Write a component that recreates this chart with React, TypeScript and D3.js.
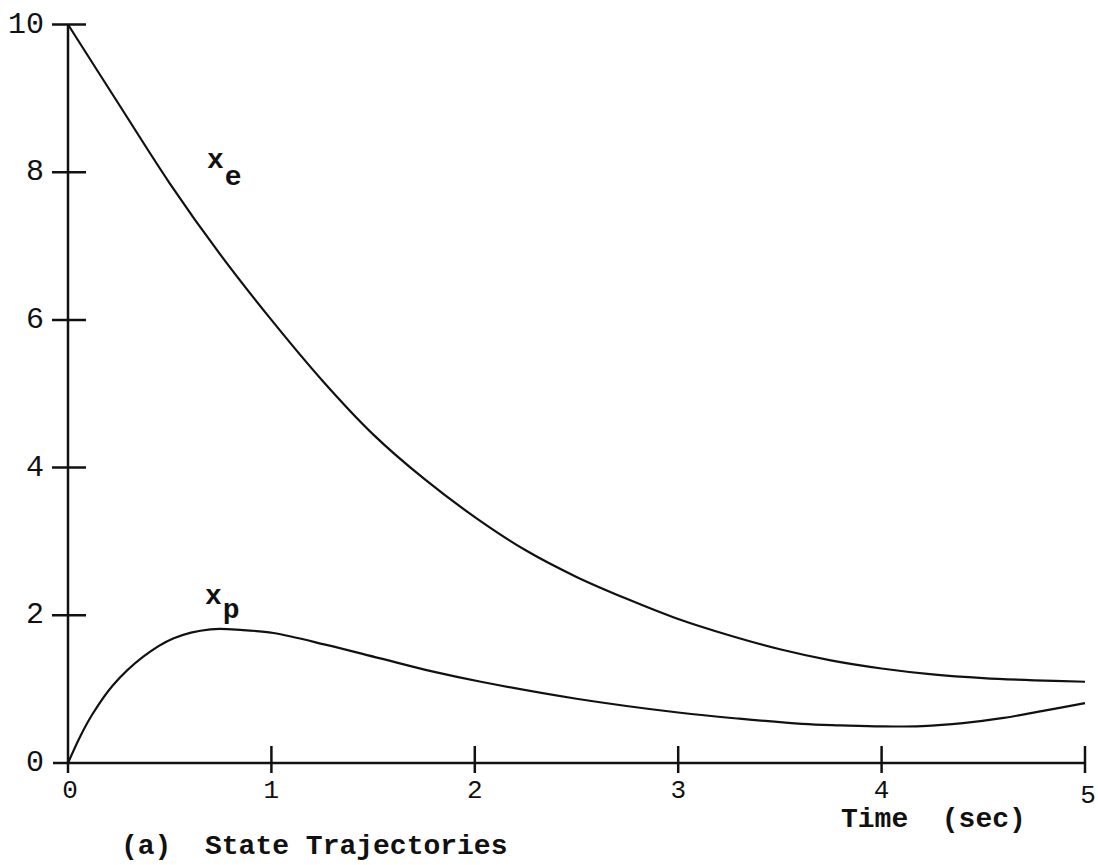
import React, { useEffect, useRef } from 'react';
import * as d3 from 'd3';

// values
const xeTime = [0, 0.25, 0.5, 0.75, 1.0, 1.25, 1.5, 1.75, 2.0, 2.25, 2.5, 2.75, 3.0, 3.25, 3.5, 3.75, 4.0, 4.25, 4.5, 4.75, 5.0];
const xeValue = [10, 8.92, 7.85, 6.88, 6.0, 5.18, 4.45, 3.85, 3.33, 2.88, 2.52, 2.22, 1.95, 1.73, 1.54, 1.39, 1.28, 1.2, 1.15, 1.12, 1.1];

const xpTime = [0, 0.06, 0.12, 0.22, 0.37, 0.52, 0.7, 0.86, 1.01, 1.27, 1.53, 1.79, 2.03, 2.5, 3.01, 3.3, 3.61, 3.8, 4.0, 4.2, 4.4, 4.6, 4.8, 5.0];
const xpValue = [0, 0.36, 0.66, 1.05, 1.44, 1.69, 1.81, 1.8, 1.76, 1.6, 1.42, 1.24, 1.1, 0.87, 0.68, 0.6, 0.53, 0.51, 0.495, 0.5, 0.54, 0.61, 0.71, 0.81];

const xTicks = [0, 1, 2, 3, 4, 5];
const yTicks = [0, 2, 4, 6, 8, 10];

const font = '"Liberation Mono", "Courier New", monospace';

function App() {
    const ref = useRef<SVGSVGElement>(null);

    useEffect(() => {
        const svg = d3.select(ref.current);
        svg.selectAll('*').remove();

        const x = d3.scaleLinear().domain([0, 5]).range([68, 1085]);
        const y = d3.scaleLinear().domain([0, 10]).range([763, 24.5]);

        // axes
        svg.append('line')
            .attr('x1', x(0)).attr('y1', y(10))
            .attr('x2', x(0)).attr('y2', y(0) + 10)
            .style('stroke', '#111').style('stroke-width', 2.5);

        svg.append('line')
            .attr('x1', x(0) - 15).attr('y1', y(0))
            .attr('x2', x(5)).attr('y2', y(0))
            .style('stroke', '#111').style('stroke-width', 2.5);

        // y ticks
        yTicks.forEach(t => {
            if (t > 0) {
                svg.append('line')
                    .attr('x1', x(0) - 16).attr('y1', y(t))
                    .attr('x2', x(0) + 18).attr('y2', y(t))
                    .style('stroke', '#111').style('stroke-width', 2.5);
            }
            svg.append('text')
                .attr('x', 44).attr('y', y(t))
                .attr('text-anchor', 'end')
                .attr('dominant-baseline', 'central')
                .style('font-family', font).style('font-size', '30px')
                .style('fill', '#111')
                .text(t);
        });

        // x ticks
        xTicks.forEach(t => {
            if (t > 0) {
                svg.append('line')
                    .attr('x1', x(t)).attr('y1', y(0) - 17)
                    .attr('x2', x(t)).attr('y2', y(0) + 10)
                    .style('stroke', '#111').style('stroke-width', 2.5);
            }
            svg.append('text')
                .attr('x', x(t) + (t === 0 ? 2 : t === 5 ? 3 : 0)).attr('y', y(0) + 28 + (t === 5 ? 5 : 0))
                .attr('text-anchor', 'middle')
                .attr('dominant-baseline', 'central')
                .style('font-family', font).style('font-size', '26px')
                .style('fill', '#111')
                .text(t);
        });

        const line = d3.line<number>()
            .x(d => x(d))
            .curve(d3.curveCatmullRom.alpha(0.5));

        svg.append('path')
            .attr('d', line.y((d, i) => y(xeValue[i]))(xeTime))
            .attr('fill', 'none')
            .style('stroke', '#111').style('stroke-width', 2.2);

        svg.append('path')
            .attr('d', line.y((d, i) => y(xpValue[i]))(xpTime))
            .attr('fill', 'none')
            .style('stroke', '#111').style('stroke-width', 2.2);

        // curve labels
        const lbl = (tx: number, ty: number, main: string, sub: string, dy: number) => {
            const t = svg.append('text')
                .attr('x', tx).attr('y', ty)
                .style('font-family', font).style('font-size', '28px')
                .style('font-weight', 'bold').style('fill', '#111');
            t.append('tspan').text(main);
            t.append('tspan').attr('dx', 1).attr('dy', dy).text(sub);
        };
        lbl(207, 168, 'x', 'e', 17);
        lbl(205, 604, 'x', 'p', 14);

        svg.append('text')
            .attr('x', 841).attr('y', 827)
            .style('font-family', font).style('font-size', '28px')
            .style('font-weight', 'bold').style('fill', '#111')
            .style('white-space', 'pre')
            .text('Time  (sec)');

        svg.append('text')
            .attr('x', 121).attr('y', 854)
            .style('font-family', font).style('font-size', '28px')
            .style('font-weight', 'bold').style('fill', '#111')
            .style('white-space', 'pre')
            .text('(a)  State Trajectories');
    }, []);

    return (
        <div>
            <svg ref={ref} width={1098} height={865}
                style={{ position: 'absolute', left: 0, top: 0, background: '#fff' }}></svg>
        </div>
    );
}

export default App;
